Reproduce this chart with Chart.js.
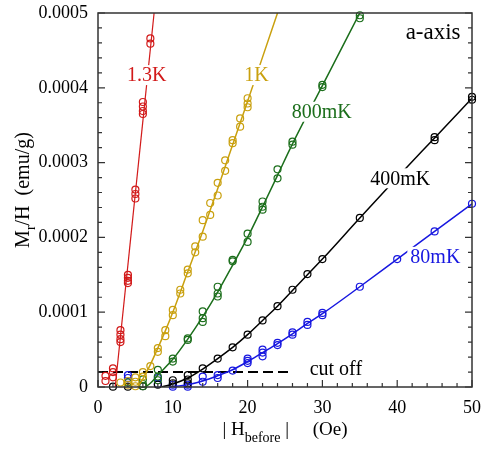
<!DOCTYPE html>
<html>
<head>
    <title>Mr/H vs |H before|</title>
    <script src="https://cdn.jsdelivr.net/npm/chart.js@4"></script>
    <style>
        body { margin: 0; background: #fff; }
    </style>
</head>
<body>
    <canvas id="myChart" width="484" height="454"></canvas>

    <script>
        // measured points (Oe, emu/g), several runs per field
        var x1p3K = [1, 1, 2, 2, 2, 3, 3, 3, 3, 4, 4, 4, 4, 5, 5, 5, 6, 6, 6, 6, 7, 7];
        var y1p3K = [0.000015, 0.000008, 0.000025, 0.00002, 0.000013, 0.000076, 0.00007, 0.000064, 0.00006,
                     0.00015, 0.000146, 0.000142, 0.000139, 0.000264, 0.000258, 0.000252,
                     0.000381, 0.000375, 0.000369, 0.000365, 0.000466, 0.000459];

        var x1K = [3, 4, 4, 5, 5, 5, 6, 6, 7, 8, 8, 9, 9, 10, 10, 11, 11, 12, 12, 13, 13, 14, 14,
                   15, 15, 16, 16, 17, 17, 18, 18, 19, 19, 20, 20, 20];
        var y1K = [0.000006, 0.000008, 0.000003, 0.000013, 0.000007, 0.000001, 0.00002, 0.000014, 0.000028,
                   0.000052, 0.000047, 0.000076, 0.000068, 0.000103, 0.000096, 0.00013, 0.000125,
                   0.000157, 0.000152, 0.000188, 0.00018, 0.000223, 0.000201, 0.000246, 0.00023,
                   0.000273, 0.000256, 0.000303, 0.000289, 0.00033, 0.000326, 0.000359, 0.000348,
                   0.000386, 0.000379, 0.000374];

        var x800mK = [4, 6, 6, 6, 8, 8, 8, 10, 10, 12, 12, 14, 14, 14, 16, 16, 16, 18, 18, 20, 20,
                      22, 22, 22, 24, 24, 26, 26, 30, 30, 35, 35];
        var y800mK = [0.000006, 0.00001, 0.000004, 0.000001, 0.000023, 0.000014, 0.000009, 0.000038, 0.000034,
                      0.000065, 0.000063, 0.000101, 0.000092, 0.000087, 0.000134, 0.000125, 0.000121,
                      0.00017, 0.000168, 0.000205, 0.000194, 0.000248, 0.000241, 0.000237,
                      0.000291, 0.000279, 0.000328, 0.000324, 0.000404, 0.000401, 0.000497, 0.000493];

        var x400mK = [2, 4, 6, 8, 10, 10, 12, 12, 12, 14, 16, 18, 20, 22, 24, 26, 28, 30, 35, 45, 45, 50, 50];
        var y400mK = [0.0000005, 0.0000005, 0.000001, 0.000003, 0.000009, 0.000005, 0.000016, 0.00001, 0.000005,
                      0.000025, 0.000038, 0.000053, 0.00007, 0.000089, 0.000108, 0.00013, 0.000151,
                      0.000171, 0.000226, 0.000334, 0.00033, 0.000388, 0.000384];

        var x80mK = [4, 4, 8, 8, 10, 10, 12, 12, 14, 14, 16, 16, 18, 20, 20, 20, 22, 22, 22, 24, 24,
                     26, 26, 28, 28, 30, 30, 35, 40, 45, 50];
        var y80mK = [0.000016, 0.000012, 0.000012, 0.000004, 0.000003, 0.0000005, 0.000003, 0.0000005,
                     0.000014, 0.000007, 0.000016, 0.000012, 0.000022, 0.000038, 0.000035, 0.000032,
                     0.00005, 0.000046, 0.000041, 0.000059, 0.000056, 0.000073, 0.00007,
                     0.000087, 0.000083, 0.000099, 0.000096, 0.000134, 0.000171, 0.000208, 0.000245];

        // guide curves through the data
        var fx1p3K = [2.3, 7.5];
        var fy1p3K = [0, 0.0005];
        var fx1K = [5.3, 6, 7, 8, 9, 10, 12, 14, 16, 18, 20, 22, 24];
        var fy1K = [0, 0.000011, 0.00003, 0.000052, 0.000075, 0.0001, 0.000154, 0.000208, 0.000265,
                    0.000324, 0.000382, 0.000441, 0.0005];
        var fx800mK = [6.3, 7, 8, 10, 12, 14, 16, 18, 20, 22, 24, 26, 30, 35];
        var fy800mK = [0, 0.000005, 0.000016, 0.000037, 0.000064, 0.000094, 0.000127, 0.000163, 0.0002,
                       0.000241, 0.000283, 0.000325, 0.000403, 0.0005];
        var fx400mK = [8.5, 10, 12, 14, 16, 18, 20, 22, 24, 26, 28, 30, 35, 40, 45, 50];
        var fy400mK = [0, 0.000004, 0.000012, 0.000024, 0.000038, 0.000053, 0.00007, 0.000089, 0.000108,
                       0.000129, 0.00015, 0.000171, 0.000226, 0.00028, 0.000333, 0.000386];
        var fx80mK = [9.5, 12, 14, 16, 18, 20, 22, 24, 26, 28, 30, 35, 40, 45, 50];
        var fy80mK = [0, 0.000003, 0.000008, 0.000015, 0.000023, 0.000034, 0.000046, 0.000058, 0.000071,
                      0.000085, 0.000098, 0.000134, 0.000171, 0.000208, 0.000245];

        var cutX = [0, 26];
        var cutY = [0.00002, 0.00002];

        var seriesNames = ["1.3K", "1K", "800mK", "400mK", "80mK"];
        var seriesColors = ["#d21a1a", "#c9a00e", "#1b6e1b", "#000000", "#1717e0"];
        var labelX = [6.5, 21.2, 29.9, 40.4, 45.1];
        var labelY = [0.000417, 0.000417, 0.000368, 0.000279, 0.000174];

        var FONT = "'Liberation Serif', 'Times New Roman', serif";

        function zip(xs, ys) {
            return xs.map(function(x, i) { return { x: x, y: ys[i] }; });
        }

        var pointSets = [[x1p3K, y1p3K], [x1K, y1K], [x800mK, y800mK], [x400mK, y400mK], [x80mK, y80mK]];
        var fitSets = [[fx1p3K, fy1p3K], [fx1K, fy1K], [fx800mK, fy800mK], [fx400mK, fy400mK], [fx80mK, fy80mK]];

        var datasets = [];
        fitSets.forEach(function(s, i) {
            datasets.push({
                label: seriesNames[i] + " fit",
                data: zip(s[0], s[1]),
                showLine: true,
                borderColor: seriesColors[i],
                borderWidth: i == 0 ? 1.2 : 1.5,
                pointRadius: 0,
                cubicInterpolationMode: "monotone",
                fill: false
            });
        });
        pointSets.forEach(function(s, i) {
            datasets.push({
                label: seriesNames[i],
                data: zip(s[0], s[1]),
                showLine: false,
                borderColor: seriesColors[i],
                backgroundColor: "rgba(0,0,0,0)",
                borderWidth: 1.2,
                pointRadius: 3.5,
                clip: false
            });
        });
        datasets.push({
            label: "cut off",
            data: zip(cutX, cutY),
            showLine: true,
            borderColor: "#000",
            borderWidth: 2,
            borderDash: [10, 5],
            pointRadius: 0
        });

        // drop the label overflow padding so the plot box sits where the reference has it
        function noPad(s) {
            s.paddingLeft = 0;
            s.paddingRight = 0;
            s.paddingTop = 0;
            s.paddingBottom = 0;
        }

        // frame, inward ticks, axis titles and curve labels
        var decor = {
            id: "decor",
            afterDatasetsDraw: function(chart) {
                var ctx = chart.ctx, a = chart.chartArea;
                var xs = chart.scales.x, ys = chart.scales.y;
                ctx.save();
                ctx.strokeStyle = "#333";
                ctx.lineWidth = 1.5;
                ctx.strokeRect(a.left, a.top, a.right - a.left, a.bottom - a.top);
                ctx.lineWidth = 1.2;
                ctx.beginPath();
                for (var i = 0; i <= 25; i++) {
                    var px = xs.getPixelForValue(i * 2);
                    var len = i % 5 == 0 ? 7 : 4;
                    ctx.moveTo(px, a.bottom);
                    ctx.lineTo(px, a.bottom - len);
                }
                for (var j = 0; j <= 25; j++) {
                    var py = ys.getPixelForValue(j * 0.00002);
                    var l = j % 5 == 0 ? 7 : 4;
                    ctx.moveTo(a.left, py);
                    ctx.lineTo(a.left + l, py);
                    ctx.moveTo(a.right, py);
                    ctx.lineTo(a.right - l, py);
                }
                ctx.stroke();

                // curve labels on white patches
                ctx.textAlign = "center";
                ctx.textBaseline = "middle";
                ctx.font = "20px " + FONT;
                seriesNames.forEach(function(name, k) {
                    var cx = xs.getPixelForValue(labelX[k]);
                    var cy = ys.getPixelForValue(labelY[k]);
                    var w = ctx.measureText(name).width;
                    ctx.fillStyle = "#fff";
                    ctx.fillRect(cx - w / 2 - 3, cy - 10, w + 6, 20);
                    ctx.fillStyle = seriesColors[k];
                    ctx.fillText(name, cx, cy + 1);
                });
                ctx.fillStyle = "#000";
                ctx.font = "23px " + FONT;
                ctx.fillText("a-axis", xs.getPixelForValue(44.8), ys.getPixelForValue(0.000473));
                ctx.font = "20px " + FONT;
                ctx.textAlign = "left";
                ctx.fillText("cut off", xs.getPixelForValue(28.3), ys.getPixelForValue(0.0000225));

                // x title with subscript
                ctx.textBaseline = "alphabetic";
                var big = "19px " + FONT, small = "14px " + FONT;
                var parts = [["| H", big, 0], ["before", small, 7], [" |", big, 0], ["     (Oe)", big, 0]];
                var total = 0;
                parts.forEach(function(p) { ctx.font = p[1]; total += ctx.measureText(p[0]).width; });
                var tx = (a.left + a.right) / 2 - total / 2;
                parts.forEach(function(p) {
                    ctx.font = p[1];
                    ctx.fillText(p[0], tx, 435 + p[2]);
                    tx += ctx.measureText(p[0]).width;
                });

                // y title, rotated
                var yparts = [["M", "20px " + FONT, 0], ["r", "14px " + FONT, 6], ["/H  (emu/g)", "20px " + FONT, 0]];
                total = 0;
                yparts.forEach(function(p) { ctx.font = p[1]; total += ctx.measureText(p[0]).width; });
                ctx.translate(29, 190);
                ctx.rotate(-Math.PI / 2);
                var ty = -total / 2;
                yparts.forEach(function(p) {
                    ctx.font = p[1];
                    ctx.fillText(p[0], ty, p[2]);
                    ty += ctx.measureText(p[0]).width;
                });
                ctx.restore();
            }
        };

        var ctx = document.getElementById("myChart").getContext("2d");
        var chart = new Chart(ctx, {
            type: "scatter",
            data: { datasets: datasets },
            options: {
                responsive: false,
                animation: false,
                layout: { padding: { left: 0, top: 13, right: 12, bottom: 0 } },
                plugins: { legend: { display: false }, tooltip: { enabled: false } },
                scales: {
                    x: {
                        type: "linear",
                        min: 0,
                        max: 50,
                        grid: { display: false, drawTicks: false },
                        border: { display: false },
                        ticks: {
                            stepSize: 10,
                            padding: 10,
                            color: "#000",
                            font: { family: FONT, size: 18 }
                        },
                        afterFit: function(s) { s.height = 67; noPad(s); }
                    },
                    y: {
                        type: "linear",
                        min: 0,
                        max: 0.0005,
                        grid: { display: false, drawTicks: false },
                        border: { display: false },
                        ticks: {
                            stepSize: 0.0001,
                            padding: 10,
                            color: "#000",
                            font: { family: FONT, size: 18 },
                            callback: function(v) { return v == 0 ? "0" : v.toFixed(4); }
                        },
                        afterFit: function(s) { s.width = 98; noPad(s); }
                    }
                }
            },
            plugins: [decor]
        });
    </script>
</body>
</html>
